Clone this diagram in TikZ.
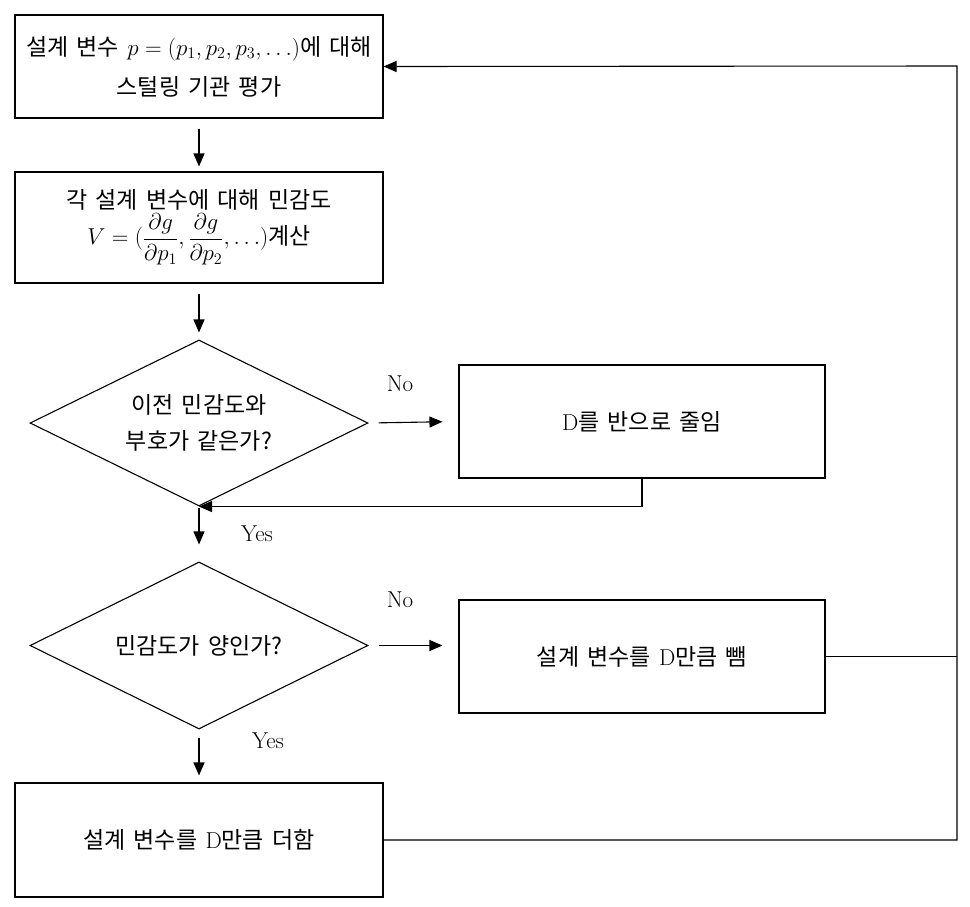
\RequirePackage{fix-cm}
\documentclass[tikz,border=0pt]{standalone}
\usepackage{amsmath}
\usepackage{fontspec}
\newfontfamily\kr[WordSpace=1.6]{Noto Sans CJK KR}
\usetikzlibrary{shapes.geometric,arrows.meta}
\begin{document}
\begin{tikzpicture}[x=1pt,y=-1pt,line width=1.1pt,
  font=\fontsize{23}{40}\selectfont\kr,
  box/.style={draw,rectangle,align=center,inner sep=0pt},
  dia/.style={draw,diamond,aspect=2,align=center,inner sep=0pt},
  lbl/.style={font=\fontsize{23}{26}\selectfont\rmfamily},
  arr/.style={-{Triangle[length=13pt,width=11pt]}}]
\useasboundingbox (0,0) rectangle (970,906);
\node[box,minimum width=368pt,minimum height=103pt] (eval) at (199,66.5) {설계 변수 $p=(p_1,p_2,p_3,\ldots)$에 대해\\스털링 기관 평가};
\node[box,minimum width=368pt,minimum height=111pt] (sens) at (199,227.5) {각 설계 변수에 대해 민감도\\[-4pt]$V=(\dfrac{\partial g}{\partial p_1},\dfrac{\partial g}{\partial p_2},\ldots)$계산};
\node[dia,minimum width=338pt,minimum height=166pt] (same) at (199,423) {이전 민감도와\\[-4pt]부호가 같은가?};
\node[box,minimum width=366pt,minimum height=113pt] (half) at (642,421.5) {{\rmfamily D}를 반으로 줄임};
\node[dia,minimum width=338pt,minimum height=167pt] (pos) at (199,645.5) {민감도가 양인가?};
\node[box,minimum width=366pt,minimum height=113pt] (sub) at (642,656.5) {설계 변수를 {\rmfamily D}만큼 뺌};
\node[box,minimum width=368pt,minimum height=114pt] (add) at (199,840) {설계 변수를 {\rmfamily D}만큼 더함};
\node[lbl] (no1) at (400,384) {No};
\node[lbl] (yes1) at (257,534) {Yes};
\node[lbl] (no2) at (400,600) {No};
\node[lbl] (yes2) at (268,741) {Yes};
\coordinate (rail) at (957,66);
\draw[arr,shorten <=10pt,shorten >=5pt] (eval.south) -- (sens.north);
\draw[arr,shorten <=10pt,shorten >=7pt] (sens.south) -- (same.north);
\draw[arr,shorten <=10pt,shorten >=16pt] (same.east) -- (half.west);
\draw[arr] (half.south) |- (same.south);
\draw[arr,shorten <=1pt,shorten >=17pt] (same.south) -- (pos.north);
\draw[arr,shorten <=10pt,shorten >=16pt] (pos.east) -- (pos.east -| sub.west);
\draw[arr,shorten <=8pt,shorten >=7pt] (pos.south) -- (add.north);
\draw (sub.east) -- (sub.east -| rail);
\draw[arr] (add.east) -| (rail) -- (eval.east);
\end{tikzpicture}
\end{document}
